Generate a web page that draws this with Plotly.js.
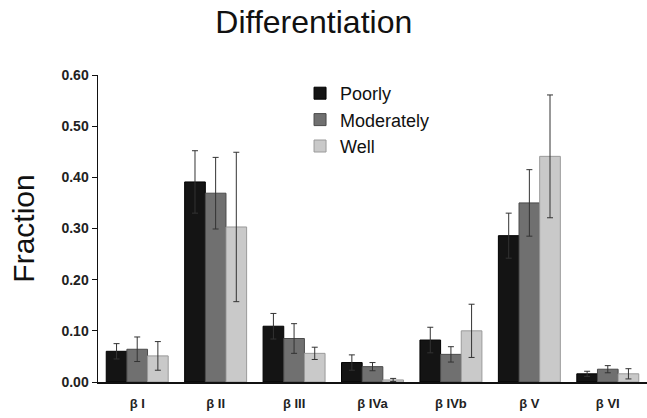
<!DOCTYPE html>
<html>
<head>
<meta charset="utf-8">
<script src="https://cdn.plot.ly/plotly-3.0.1.min.js"></script>
<style>html,body{margin:0;padding:0;background:#fff;}#chart{width:647px;height:418px;}</style>
</head>
<body>
<div id="chart"></div>
<script>
var categories = ["β I", "β II", "β III", "β IVa", "β IVb", "β V", "β VI"];
var poorly = [0.060, 0.391, 0.109, 0.038, 0.082, 0.286, 0.016];
var poorlyErr = [0.015, 0.061, 0.025, 0.015, 0.025, 0.044, 0.005];
var moderately = [0.064, 0.369, 0.085, 0.030, 0.054, 0.350, 0.025];
var moderatelyErr = [0.024, 0.070, 0.029, 0.008, 0.015, 0.065, 0.007];
var well = [0.051, 0.303, 0.056, 0.004, 0.100, 0.441, 0.016];
var wellErr = [0.028, 0.146, 0.012, 0.003, 0.052, 0.120, 0.010];
var yTicks = [0, 0.1, 0.2, 0.3, 0.4, 0.5, 0.6];

function series(name, y, err, fill, edge) {
  return {
    type: "bar", name: name, x: categories, y: y,
    marker: {color: fill, line: {color: edge, width: 1}},
    error_y: {type: "data", array: err, visible: true, color: "#333333", thickness: 1, width: 3}
  };
}
var data = [
  series("Poorly", poorly, poorlyErr, "#141414", "#000000"),
  series("Moderately", moderately, moderatelyErr, "#707070", "#4a4a4a"),
  series("Well", well, wellErr, "#c9c9c9", "#9a9a9a")
];
var layout = {
  width: 647, height: 418,
  margin: {l: 98, r: 0, t: 75, b: 36},
  paper_bgcolor: "#ffffff", plot_bgcolor: "#ffffff",
  font: {family: "Arial, Liberation Sans, sans-serif", color: "#222222"},
  title: {text: "Differentiation", x: 0.485, xanchor: "center", y: 0.948, yanchor: "middle", font: {size: 32, color: "#111111"}},
  barmode: "group", bargap: 0.21, bargroupgap: 0,
  showlegend: true,
  legend: {x: 0.368, y: 1.0, xanchor: "left", yanchor: "top", bgcolor: "rgba(0,0,0,0)", font: {size: 18, color: "#111111"}, tracegroupgap: 0, itemwidth: 30},
  xaxis: {
    type: "category", range: [-0.5, 6.5], showline: true, linecolor: "#111111", linewidth: 1.5,
    ticks: "outside", ticklen: 9, tickcolor: "rgba(0,0,0,0)", showgrid: false, zeroline: false,
    tickfont: {size: 13, color: "#222222", weight: "bold"}
  },
  yaxis: {
    range: [0, 0.6], tickvals: yTicks, tickformat: ".2f", showline: true, linecolor: "#111111", linewidth: 1.5,
    ticks: "outside", ticklen: 5, tickcolor: "#111111", showgrid: false, zeroline: false,
    tickfont: {size: 14, color: "#222222", weight: "bold"},
    title: {text: "Fraction", font: {size: 30, color: "#111111"}, standoff: 18}
  }
};
Plotly.newPlot("chart", data, layout, {displayModeBar: false, staticPlot: true});
</script>
</body>
</html>
